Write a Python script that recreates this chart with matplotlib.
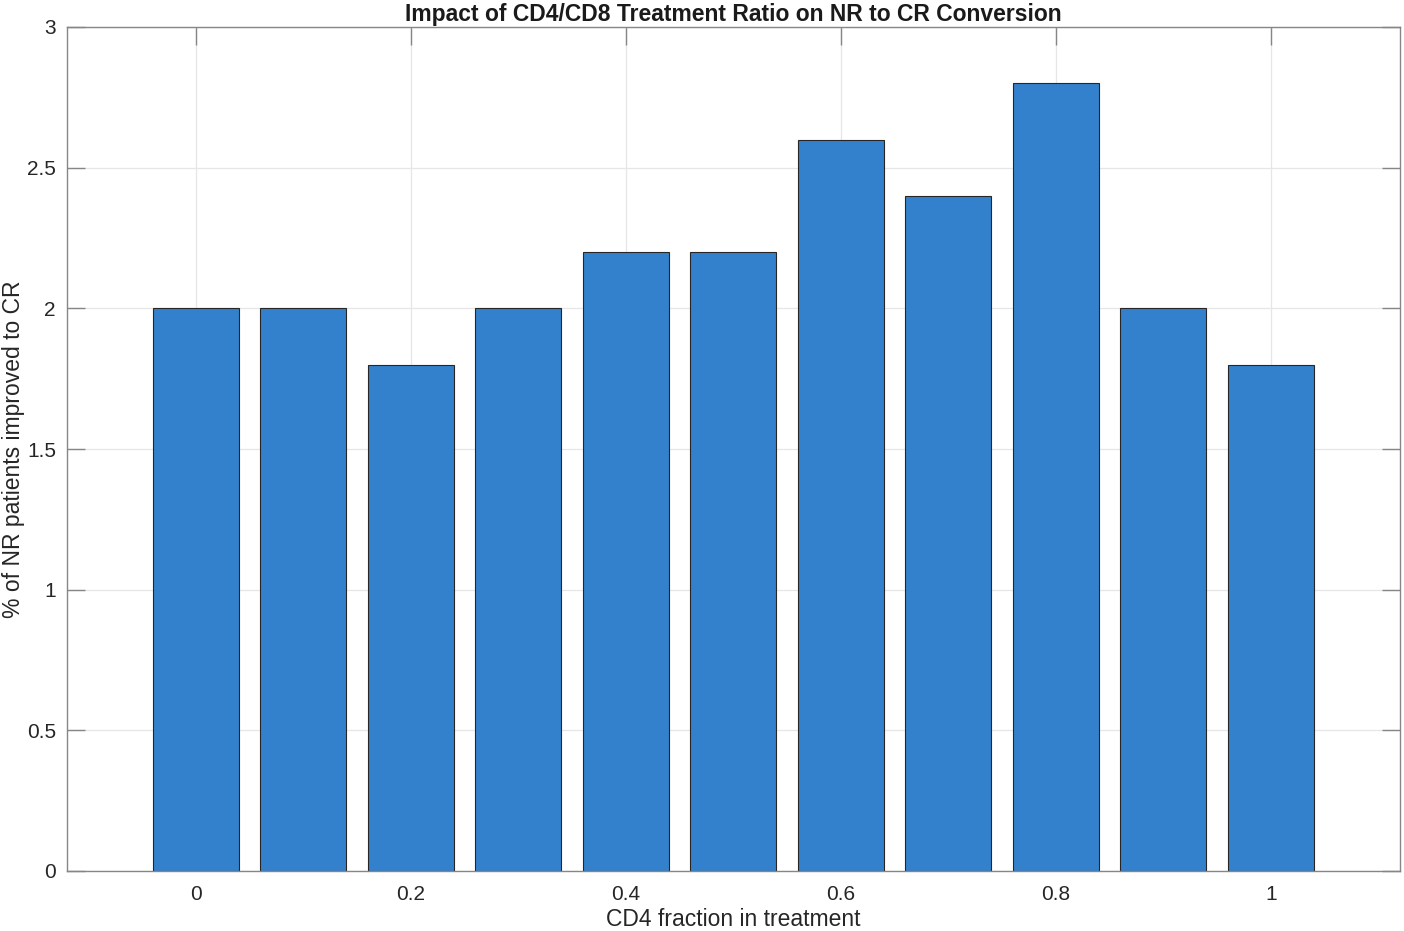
import matplotlib
matplotlib.use('Agg')
import matplotlib.pyplot as plt

plt.rcParams['font.family'] = ['Liberation Sans', 'DejaVu Sans']

cd4_fraction = [0, 0.1, 0.2, 0.3, 0.4, 0.5, 0.6, 0.7, 0.8, 0.9, 1.0]
pct_improved = [2.0, 2.0, 1.8, 2.0, 2.2, 2.2, 2.6, 2.4, 2.8, 2.0, 1.8]
xticks = [0, 0.2, 0.4, 0.6, 0.8, 1]
yticks = [0, 0.5, 1, 1.5, 2, 2.5, 3]

fig = plt.figure(figsize=(14.04, 9.31), dpi=100)
ax = fig.add_axes([67/1404, 1 - 871/931, 1333/1404, 844/931])

ax.bar(cd4_fraction, pct_improved, width=0.08, color='#3381cc',
       edgecolor='#262626', linewidth=0.8)

ax.set_xlim(-0.12, 1.12)
ax.set_ylim(0, 3)
ax.set_xticks(xticks)
ax.set_xticklabels(['0', '0.2', '0.4', '0.6', '0.8', '1'])
ax.set_yticks(yticks)
ax.set_yticklabels(['0', '0.5', '1', '1.5', '2', '2.5', '3'])

ax.set_axisbelow(True)
ax.grid(True, color='#e6e6e6', linewidth=0.9)
for s in ax.spines.values():
    s.set_color('#868686')
    s.set_linewidth(1.0)
ax.tick_params(direction='in', length=13, width=1.0, color='#868686',
               top=True, right=True, labelsize=15, labelcolor='#262626', pad=10)
ax.tick_params(axis='y', pad=8)

ax.set_xlabel('CD4 fraction in treatment', fontsize=16.5, color='#262626', labelpad=3)
ax.set_ylabel('% of NR patients improved to CR', fontsize=16.5, color='#262626',
              va='center')
ax.yaxis.set_label_coords(-0.0405, 0.5)
ax.set_title('Impact of CD4/CD8 Treatment Ratio on NR to CR Conversion',
             fontsize=16.5, fontweight='bold', color='#1a1a1a', pad=4)

fig.savefig('out.png', dpi=100)
